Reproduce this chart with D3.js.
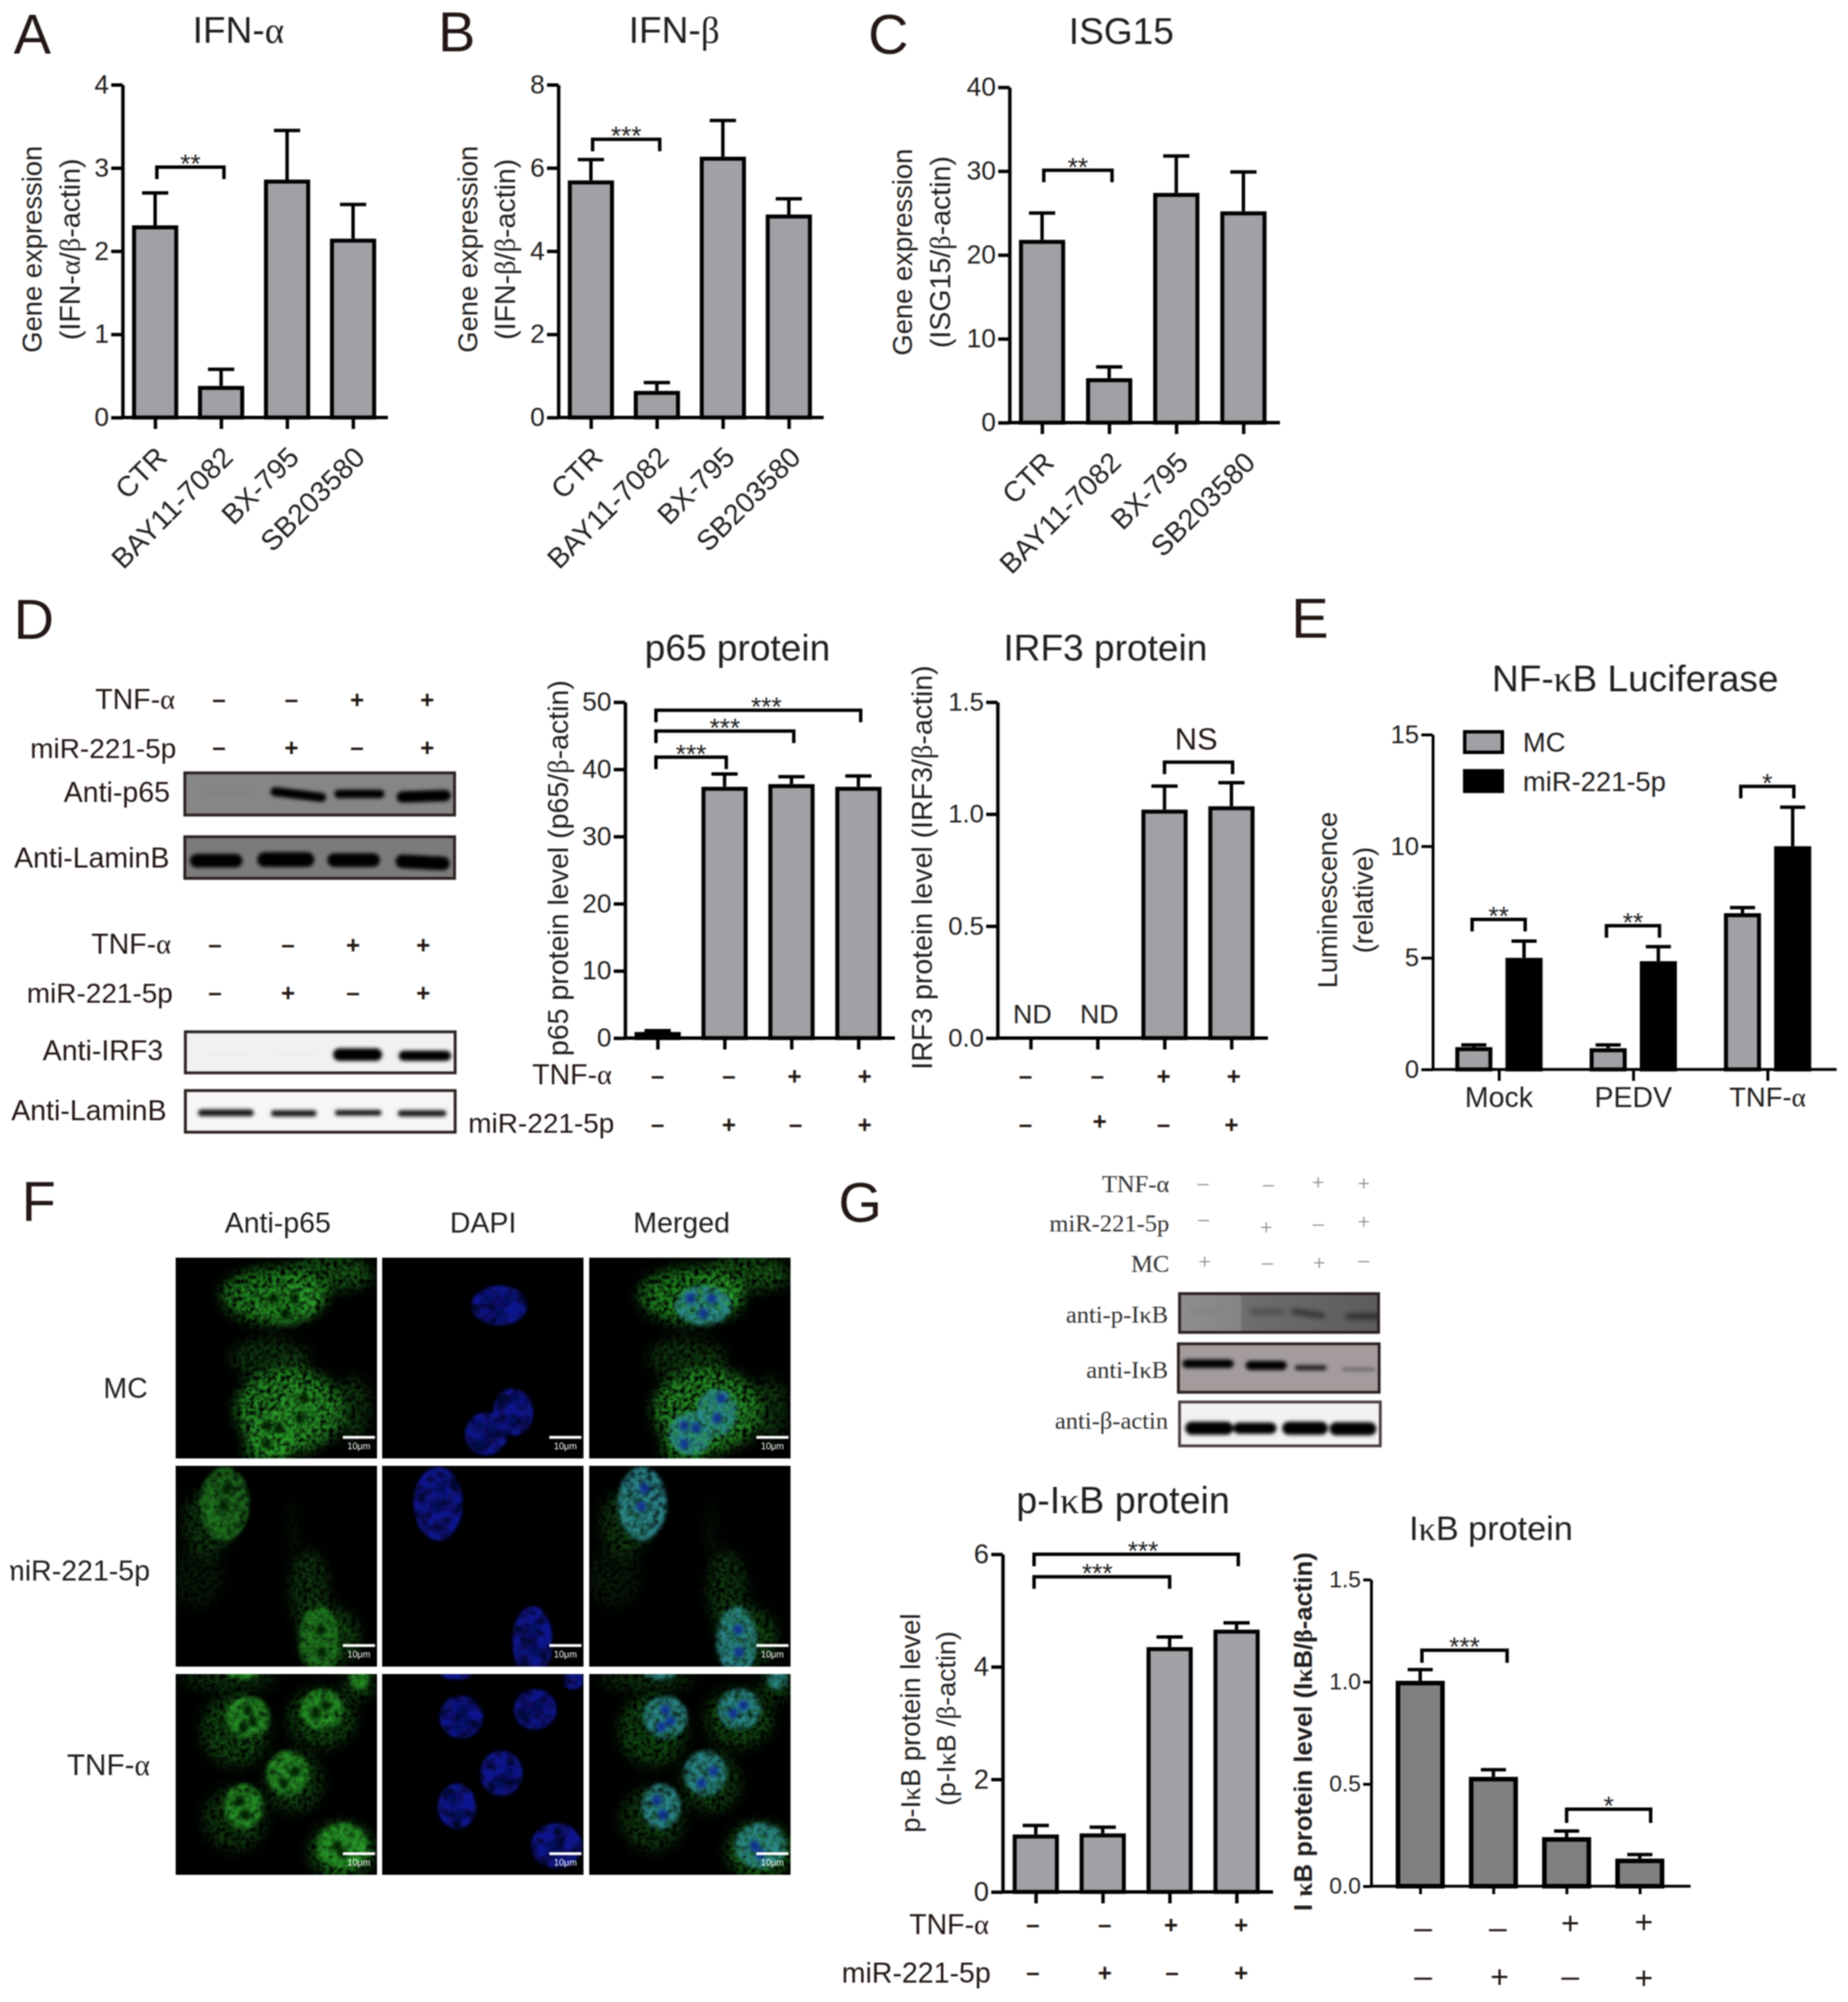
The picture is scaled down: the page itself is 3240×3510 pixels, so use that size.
<!DOCTYPE html>
<html><head><meta charset="utf-8">
<style>html,body{margin:0;background:#fff}svg{display:block;filter:blur(1.1px)}</style>
<script src="https://cdn.jsdelivr.net/npm/d3@7/dist/d3.min.js"></script></head><body>
<script>
// ---------- data ----------
const drugs = ["CTR","BAY11-7082","BX-795","SB203580"];
const ifnAlpha = [2.31,0.38,2.86,2.15];
const ifnAlphaTop = [2.70,0.58,3.45,2.56];
const ifnBeta = [5.70,0.64,6.27,4.88];
const ifnBetaTop = [6.20,0.84,7.14,5.26];
const isg15 = [21.8,5.3,27.4,25.2];
const isg15Top = [25.0,6.65,31.8,29.9];
const p65Level = [0.9,37.4,37.8,37.4];
const p65Top = [1.1,39.3,38.9,39.0];
const irf3Level = [null,null,1.02,1.035];
const irf3Top = [null,null,1.125,1.14];
const lucGroups = ["Mock","PEDV","TNF-α"];
const lucSeries = ["MC","miR-221-5p"];
const lucMC = [1.0,0.95,7.0];
const lucMCTop = [1.1,1.1,7.25];
const lucMiR = [5.0,4.85,10.0];
const lucMiRTop = [5.75,5.5,11.75];
const pIkB = [1.02,1.04,4.35,4.66];
const pIkBTop = [1.18,1.15,4.53,4.78];
const ikb = [1.005,0.535,0.24,0.135];
const ikbTop = [1.06,0.57,0.27,0.155];
const tnfRow = ["-","-","+","+"];
const mirRow = ["-","+","-","+"];
const mcRow = ["+","-","+","-"];
// relative band strength per lane of each western blot
const blotP65 = [0.03,1,1,1];
const blotLaminA = [1,1,1,1];
const blotIRF3 = [0.015,0.015,1,1];
const blotLaminB = [0.9,0.9,0.9,0.9];
const blotPIkB = [0.06,0.38,0.62,0.55];
const blotIkB = [1,1,0.8,0.4];
const blotActin = [1,1,1,1];

// ---------- page ----------
const W=3240,H=3510;
const svg=d3.select("body").append("svg").attr("width",W).attr("height",H).attr("viewBox",[0,0,W,H]);
svg.append("rect").attr("width",W).attr("height",H).attr("fill","#fff");
const SANS="'Liberation Sans',Arial,sans-serif",SERIF="'Liberation Serif',serif",INK="#231815",BAR="#a0a1a5";
const defs=svg.append("defs");
function speckle(id,freq,lo,slope,blur,seed){
  const f=defs.append("filter").attr("id",id).attr("x","-15%").attr("y","-15%").attr("width","130%").attr("height","130%");
  f.append("feGaussianBlur").attr("in","SourceGraphic").attr("stdDeviation",blur).attr("result","b");
  f.append("feTurbulence").attr("type","fractalNoise").attr("baseFrequency",freq).attr("numOctaves",2).attr("seed",seed).attr("result","n");
  f.append("feColorMatrix").attr("in","n").attr("type","matrix").attr("values",`0 0 0 0 1 0 0 0 0 1 0 0 0 0 1 ${slope} 0 0 0 ${lo}`).attr("result","a");
  f.append("feComposite").attr("in","b").attr("in2","a").attr("operator","in");
}
speckle("cyto",0.13,-0.55,2.4,11,4);
speckle("nuc",0.09,-0.1,1.7,3,7);
speckle("dapi",0.05,-0.05,1.6,2.5,11);
const blurF=(id,s)=>defs.append("filter").attr("id",id).attr("x","-30%").attr("y","-60%").attr("width","160%").attr("height","220%").append("feGaussianBlur").attr("stdDeviation",s);
blurF("b3",3.2);blurF("b5",5);blurF("b9",9);
const grad=defs.append("linearGradient").attr("id","pikbBg");
[[0,"#8e8e8e"],[0.3,"#858585"],[0.32,"#6e6e6e"],[1,"#5c5c5c"]].forEach(s=>grad.append("stop").attr("offset",s[0]).attr("stop-color",s[1]));

function rich(t,str){ // greek letters are set in a serif face as in the figure
  t.text(null);
  str.split(/([αβκ])/).filter(s=>s).forEach(s=>{
    const g=/[αβκ]/.test(s);
    t.append("tspan").attr("font-family",g?SERIF:SANS).text(s);
  });
}
function label(x,cy,str,o={}){
  const t=svg.append("text").attr("x",x).attr("y",cy).attr("dy",".36em")
   .attr("font-family",o.family||SANS).attr("font-size",o.size||46).attr("fill",o.fill||INK)
   .attr("text-anchor",o.anchor||"middle").attr("font-weight",o.weight||400);
  if(o.family) t.text(str); else rich(t,str);
  if(o.rot!=null) t.attr("transform",`rotate(${o.rot},${x},${cy})`);
  if(o.clip) t.attr("clip-path",o.clip);
  return t;
}
function panelLetter(s,x,base){svg.append("text").attr("x",x).attr("y",base).attr("font-family",SANS).attr("font-size",98).attr("fill",INK).text(s);}
function yAxis(cfg){
  const y=d3.scaleLinear().domain(cfg.domain).range([cfg.bottom,cfg.top]);
  const g=svg.append("g").attr("transform",`translate(${cfg.axisX},0)`)
    .call(d3.axisLeft(y).tickValues(cfg.ticks).tickFormat(cfg.fmt||d3.format("d")).tickSize(cfg.tick||20).tickSizeOuter(0).tickPadding(4));
  g.selectAll("path").attr("stroke","#000").attr("stroke-width",cfg.sw||6);
  g.selectAll("line").attr("stroke","#000").attr("stroke-width",cfg.sw||6);
  g.selectAll("text").attr("font-family",SANS).attr("font-size",cfg.font||46).attr("fill","#231f20");
  return y;
}
function xAxis(cfg,x){
  const g=svg.append("g").attr("transform",`translate(0,${cfg.bottom})`)
    .call(d3.axisBottom(x).tickSize(cfg.tick||20).tickSizeOuter(0).tickPadding(8));
  g.select("path").remove();
  g.selectAll("line").attr("stroke","#000").attr("stroke-width",cfg.sw||6);
  g.selectAll("text").remove();
  svg.append("line").attr("x1",cfg.axisX).attr("x2",cfg.xEnd).attr("y1",cfg.bottom).attr("y2",cfg.bottom).attr("stroke","#000").attr("stroke-width",cfg.sw||6);
}
function bars(data,y,cfg){
  const sw=cfg.sw||7, g=svg.append("g");
  const d=data.filter(b=>b.v!=null);
  g.selectAll("line.err").data(d).join("line").attr("x1",b=>b.x).attr("x2",b=>b.x).attr("y1",b=>y(b.v)).attr("y2",b=>y(b.t)).attr("stroke","#000").attr("stroke-width",6);
  g.selectAll("line.cap").data(d).join("line").attr("x1",b=>b.x-cfg.cap/2).attr("x2",b=>b.x+cfg.cap/2).attr("y1",b=>y(b.t)).attr("y2",b=>y(b.t)).attr("stroke","#000").attr("stroke-width",6);
  g.selectAll("rect").data(d).join("rect").attr("x",b=>b.x-cfg.bw/2+sw/2).attr("width",cfg.bw-sw)
    .attr("y",b=>y(b.v)+sw/2).attr("height",b=>Math.max(0,cfg.bottom-y(b.v)-sw/2))
    .attr("fill",b=>b.fill||cfg.fill||BAR).attr("stroke","#000").attr("stroke-width",sw);
}
function bracket(y,a,b,v,txt,o={}){
  const yy=y(v),d=o.drop||21;
  svg.append("path").attr("d",d3.line()([[a,yy+d],[a,yy],[b,yy],[b,yy+d]])).attr("fill","none").attr("stroke","#000").attr("stroke-width",o.sw||6);
  if(txt==="NS") label((a+b)/2-4,yy-42,txt,{size:54});
  else svg.append("text").attr("x",(a+b)/2+(o.sx||0)).attr("y",yy+10).attr("text-anchor","middle").attr("font-family",SANS).attr("font-size",46).attr("fill","#222").text(txt);
}
function signs(vals,xs,ys,o={}){
  const fill=o.fill||INK,fam=o.family||SANS,size=o.size||42;
  vals.forEach((s,i)=>{
    svg.append("text").attr("x",xs[i]).attr("y",ys[i]).attr("dy",s==="+"?"0.34em":"0.3em").attr("text-anchor","middle")
      .attr("font-family",fam).attr("font-size",size).attr("font-weight",o.weight||700).attr("fill",fill).text(s==="+"?"+":"–");
  });
}

// ---------- A B C ----------
function drugChart(c){
  const y=yAxis(c);
  const x=d3.scalePoint().domain(drugs).range([c.first,c.last]);
  xAxis(c,x);
  bars(drugs.map((k,i)=>({x:x(k),v:c.values[i],t:c.tops[i]})),y,{bw:81,cap:46,bottom:c.bottom});
  bracket(y,x(drugs[0])+3,x(drugs[1])+5,c.brV,c.stars);
  drugs.forEach(k=>{
    const px=x(k)+11,py=c.bottom+60;
    svg.append("text").attr("x",px).attr("y",py).attr("dy",".36em").attr("text-anchor","end").attr("transform",`rotate(-45,${px},${py})`)
      .attr("font-family",SANS).attr("font-size",50).attr("fill","#231f20").text(k);
  });
  label(c.titleX,c.titleY,c.title,{size:65,fill:"#231f20"});
  label(c.lab1,c.labY,"Gene expression",{rot:-90,size:48,fill:"#231f20"});
  label(c.lab2,c.labY,c.sub,{rot:-90,size:50,fill:"#231f20"});
}
panelLetter("A",24,94);panelLetter("B",768,90);panelLetter("C",1522,94);
drugChart({title:"IFN-α",sub:"(IFN-α/β-actin)",values:ifnAlpha,tops:ifnAlphaTop,domain:[0,4],ticks:[0,1,2,3,4],axisX:215,top:148.6,bottom:732,first:272,last:619,xEnd:680,brV:3.01,stars:"**",titleX:418,titleY:52,lab1:56,lab2:122,labY:437});
drugChart({title:"IFN-β",sub:"(IFN-β/β-actin)",values:ifnBeta,tops:ifnBetaTop,domain:[0,8],ticks:[0,2,4,6,8],axisX:979,top:148.6,bottom:732,first:1036,last:1383,xEnd:1444,brV:6.69,stars:"***",titleX:1182,titleY:52,lab1:820,lab2:885,labY:437});
drugChart({title:"ISG15",sub:"(ISG15/β-actin)",values:isg15,tops:isg15Top,domain:[0,40],ticks:[0,10,20,30,40],axisX:1770,top:153,bottom:741,first:1827,last:2180,xEnd:2244,brV:30.1,stars:"**",titleX:1966,titleY:54,lab1:1582,lab2:1648,labY:442});

// ---------- D bar charts ----------
panelLetter("D",24,1120);
(function(){
  const c={domain:[0,50],ticks:[0,10,20,30,40,50],axisX:1096,top:1231,bottom:1820,xEnd:1569};
  const y=yAxis(c),x=d3.scalePoint().domain(d3.range(4)).range([1153,1505]);
  xAxis(c,x);
  bars(p65Level.map((v,i)=>({x:x(i),v,t:p65Top[i]})),y,{bw:81,cap:46,bottom:c.bottom});
  bracket(y,x(0)-3,x(1)+3,41.8,"***");
  bracket(y,x(0)-3,x(2)+4,45.7,"***");
  bracket(y,x(0)-3,x(3)+4,48.8,"***",{sx:14});
  label(1293,1135,"p65 protein",{size:65,fill:"#231f20"});
  label(978,1522,"p65 protein level (p65/β-actin)",{rot:-90,size:50,fill:"#231f20"});
  label(1073,1883,"TNF-α",{anchor:"end",size:50});
  label(1077,1968,"miR-221-5p",{anchor:"end",size:49});
  signs(tnfRow,[1153,1278,1393,1516],[1887,1887,1887,1887]);
  signs(mirRow,[1153,1278,1395,1516],[1972,1972,1972,1972]);
})();
(function(){
  const c={domain:[0,1.5],ticks:[0,0.5,1,1.5],fmt:d3.format(".1f"),font:45,axisX:1749,top:1231,bottom:1820,xEnd:2223};
  const y=yAxis(c),x=d3.scalePoint().domain(d3.range(4)).range([1807,2159]);
  xAxis(c,x);
  bars(irf3Level.map((v,i)=>({x:x(i),v,t:irf3Top[i]})),y,{bw:81,cap:46,bottom:c.bottom});
  bracket(y,x(2),x(3)+2,1.232,"NS");
  [0,1].forEach(i=>label(x(i)+3,1777,"ND",{size:47,fill:"#231f20"}));
  label(1938,1135,"IRF3 protein",{size:65,fill:"#231f20"});
  label(1616,1521,"IRF3 protein level (IRF3/β-actin)",{rot:-90,size:50,fill:"#231f20"});
  signs(tnfRow,[1798,1924,2040,2163],[1887,1887,1887,1887]);
  signs(mirRow,[1798,1928,2040,2159],[1972,1966,1972,1972]);
})();

// ---------- E ----------
panelLetter("E",2264,1118);
(function(){
  const c={domain:[0,15],ticks:[0,5,10,15],font:45,axisX:2512,top:1288,bottom:1875,xEnd:3220,sw:5};
  const y=yAxis(c),x=d3.scalePoint().domain(lucGroups).range([2628,3099]);
  const sub=d3.scaleBand().domain(lucSeries).range([-88,88]);
  xAxis(c,x);
  const off=s=>sub(s)+sub.bandwidth()/2;
  const d=[];
  lucGroups.forEach((g,i)=>{
    d.push({x:x(g)+off("MC"),v:lucMC[i],t:lucMCTop[i]});
    d.push({x:x(g)+off("miR-221-5p"),v:lucMiR[i],t:lucMiRTop[i],fill:"#000"});
  });
  bars(d,y,{bw:65,cap:44,bottom:c.bottom});
  const sp=[[6.72,"**"],[6.44,"**"],[12.68,"*"]];
  lucGroups.forEach((g,i)=>bracket(y,x(g)+off("MC")-3,x(g)+off("miR-221-5p")+2,sp[i][0],sp[i][1]));
  lucGroups.forEach(g=>label(x(g),1923,g,{size:g==="TNF-α"?48:50,fill:"#231f20"}));
  const lg=d3.scaleBand().domain(lucSeries).range([1272,1402]).paddingInner(0.1);
  lucSeries.forEach((s,i)=>{
    svg.append("rect").attr("x",2568).attr("y",lg(s)+11).attr("width",66).attr("height",36).attr("fill",i?"#000":BAR).attr("stroke","#000").attr("stroke-width",6);
    label(2670,lg(s)+29,s,{anchor:"start",size:48,fill:"#231f20"});
  });
  label(2867,1189,"NF-κB Luciferase",{size:65,fill:"#231f20"});
  label(2327,1578,"Luminescence",{rot:-90,size:48,fill:"#231f20"});
  label(2390,1578,"(relative)",{rot:-90,size:48,fill:"#231f20"});
})();

// ---------- G charts ----------
panelLetter("G",1470,2142);
(function(){
  const c={domain:[0,6],ticks:[0,2,4,6],font:48,axisX:1758,top:2725,bottom:3317,xEnd:2232};
  const y=yAxis(c),x=d3.scalePoint().domain(d3.range(4)).range([1816,2168]);
  xAxis(c,x);
  bars(pIkB.map((v,i)=>({x:x(i),v,t:pIkBTop[i]})),y,{bw:81,cap:46,bottom:c.bottom});
  bracket(y,x(0)-3,x(2),5.6,"***",{sx:-8});
  bracket(y,x(0)-3,x(3)+3,6.0,"***",{sx:12});
  label(1969,2629,"p-IκB protein",{size:66,fill:"#231f20"});
  label(1596,3021,"p-IκB protein level",{rot:-90,size:48,fill:"#231f20"});
  label(1658,3013,"(p-IκB /β-actin)",{rot:-90,size:47,fill:"#231f20"});
  label(1734,3373,"TNF-α",{anchor:"end",size:50});
  label(1737,3458,"miR-221-5p",{anchor:"end",size:50});
  signs(tnfRow,[1811,1937,2053,2176],[3375,3375,3375,3375]);
  signs(mirRow,[1811,1937,2055,2176],[3459,3459,3459,3459]);
})();
(function(){
  const c={domain:[0,1.5],ticks:[0,0.5,1,1.5],fmt:d3.format(".1f"),font:40,tick:14,sw:5,axisX:2404,top:2769.5,bottom:3307,xEnd:2964};
  const y=yAxis(c),x=d3.scalePoint().domain(d3.range(4)).range([2490,2875]);
  xAxis(c,x);
  bars(ikb.map((v,i)=>({x:x(i),v,t:ikbTop[i]})),y,{bw:86,cap:44,bottom:c.bottom,fill:"#808080",sw:8});
  bracket(y,x(0)+3,x(1)+24,1.155,"***",{drop:22});
  bracket(y,x(2),x(3)+19,0.377,"*",{drop:24});
  label(2614,2678,"IκB protein",{size:60,fill:"#231f20"});
  label(2284,3036,"I κB protein level (IκB/β-actin)",{rot:-90,size:45,weight:700,fill:"#231f20"});
  const big={size:56,weight:400};
  signs(tnfRow,[2495,2626,2753,2882],[3381,3381,3372,3370],big);
  signs(mirRow,[2495,2629,2753,2882],[3466,3466,3466,3468],big);
})();

// ---------- western blots ----------
let blotN=0;
function blot(c){
  const g=svg.append("g");
  const cid="blot"+(blotN++);
  defs.append("clipPath").attr("id",cid).append("rect").attr("x",c.x).attr("y",c.y).attr("width",c.w).attr("height",c.h);
  const inner=g.append("g").attr("clip-path",`url(#${cid})`);
  inner.append("rect").attr("x",c.x).attr("y",c.y).attr("width",c.w).attr("height",c.h).attr("fill",c.bg);
  const band=inner.append("g").attr("filter",`url(#${c.blur||"b3"})`);
  c.values.forEach((v,i)=>{
    const [cx,wd,cy,th,tilt]=c.lanes[i];
    band.append("rect").attr("x",cx-wd/2).attr("y",cy-th/2).attr("width",wd).attr("height",th).attr("rx",th/2)
      .attr("fill",c.band||"#000").attr("opacity",v).attr("transform",`rotate(${tilt||0},${cx},${cy})`);
  });
  g.append("rect").attr("x",c.x).attr("y",c.y).attr("width",c.w).attr("height",c.h).attr("fill","none").attr("stroke",c.border||"#2b2220").attr("stroke-width",5);
}
blot({x:324,y:1355,w:473,h:74,bg:"#868686",values:blotP65,lanes:[[400,90,1393,6],[523,98,1393,16,7],[630,88,1392,15],[743,95,1396,20,-2]]});
blot({x:324,y:1467,w:473,h:73,bg:"#7b7b7b",values:blotLaminA,lanes:[[379,92,1509,24],[501,100,1507,26],[620,92,1508,24],[741,95,1512,24,3]]});
blot({x:325,y:1809,w:473,h:72,bg:"#f1f1f1",values:blotIRF3,lanes:[[400,80,1848,6],[520,80,1848,6],[627,86,1849,22],[745,92,1851,18]]});
blot({x:325,y:1912,w:473,h:73,bg:"#f6f6f6",values:blotLaminB,lanes:[[396,98,1951,12],[515,80,1952,11],[628,82,1951,10],[740,85,1952,11]]});
blot({x:2068,y:2268,w:349,h:68,bg:"url(#pikbBg)",blur:"b5",values:blotPIkB,lanes:[[2112,70,2298,5],[2220,60,2300,7],[2293,60,2303,8,8],[2390,62,2308,10]]});
blot({x:2066,y:2356,w:352,h:85,bg:"#a49c9c",values:blotIkB,lanes:[[2118,90,2391,15],[2220,72,2394,16],[2298,56,2398,9],[2382,58,2401,5]]});
blot({x:2068,y:2458,w:352,h:77,bg:"#f2f2f2",border:"#4a4040",values:blotActin,lanes:[[2120,84,2504,23],[2200,76,2504,20],[2288,80,2504,23],[2372,82,2505,23]]});

label(307,1225,"TNF-α",{anchor:"end",size:50});
label(309,1311,"miR-221-5p",{anchor:"end",size:49});
signs(tnfRow,[384,511,626,749],[1227,1227,1227,1227]);
signs(mirRow,[384,511,626,749],[1311,1311,1311,1311]);
label(298,1388,"Anti-p65",{anchor:"end",size:50});
label(297,1503,"Anti-LaminB",{anchor:"end",size:50});
label(300,1654,"TNF-α",{anchor:"end",size:50});
label(303,1740,"miR-221-5p",{anchor:"end",size:49});
signs(tnfRow,[377,505,619,742],[1657,1657,1657,1657]);
signs(mirRow,[377,505,619,742],[1741,1741,1741,1741]);
label(286,1841,"Anti-IRF3",{anchor:"end",size:50});
label(292,1946,"Anti-LaminB",{anchor:"end",size:50});

const G_TXT={anchor:"end",size:43,family:SERIF,fill:"#333"};
label(2050,2075,"TNF-α",G_TXT);label(2050,2144,"miR-221-5p",G_TXT);label(2050,2215,"MC",G_TXT);
label(2048,2304,"anti-p-IκB",G_TXT);label(2048,2401,"anti-IκB",G_TXT);label(2048,2490,"anti-β-actin",G_TXT);
const gs={family:SERIF,size:38,weight:400,fill:"#888"};
signs(tnfRow,[2109,2224,2311,2391],[2075,2077,2073,2075],gs);
signs(mirRow,[2110,2220,2311,2391],[2138,2152,2146,2142],gs);
signs(mcRow,[2112,2222,2313,2391],[2212,2214,2214,2210],gs);

// ---------- F confocal micrographs ----------
panelLetter("F",38,2140);
const colX=[308,670,1033],rowY=[2205,2570,2935],PW=353,PH=352;
const colNames=["Anti-p65","DAPI","Merged"],rowNames=["MC","miR-221-5p","TNF-α"];
const cytoLayout=[
 [[.52,.19,.26,.14,.75],[.80,.08,.22,.09,.5],[.60,.76,.27,.21,.8],[.50,.50,.20,.10,.3],[.92,.75,.08,.16,.3],[.70,.20,.08,.08,.8],[.50,.95,.12,.07,.9]],
 [[.20,.28,.13,.16,.32],[.14,.55,.13,.16,.14],[.70,.62,.10,.20,.3],[.80,.85,.15,.15,.4],[.62,.32,.03,.16,.12]],
 [[.33,.28,.17,.18,.4],[.76,.22,.17,.15,.4],[.62,.54,.15,.15,.35],[.33,.72,.16,.16,.32],[.86,.88,.16,.14,.6],[.30,.03,.24,.05,.3],[.95,.05,.08,.08,.4]]
];
const nucLayout=[
 [[.582,.238,.139,.099,[[-.063,-.035],[.043,-.035],[0,.04]]],[.65,.77,.10,.118,[[.02,-.07],[.0,.03]]],[.517,.877,.107,.106,[[-.03,-.04],[.03,-.03],[-.03,.05]]]],
 [[.278,.188,.122,.183,[[.012,-.075],[-.005,.014]]],[.747,.875,.10,.176,[[.008,-.06],[.012,.052]]]],
 [[.393,.214,.109,.106,[[.0,-.035],[.025,.02],[-.02,.05]]],[.76,.176,.106,.101,[[.02,-.02],[-.03,.02]]],[.592,.494,.106,.113,[[.04,-.01],[-.02,.05]]],[.372,.659,.096,.113,[[-.02,-.03],[.01,.04]]],[.866,.855,.127,.113,[[-.03,.0],[.0,.04]]],[.367,.0,.076,.028,[]],[.95,.03,.05,.047,[]]]
];
const nucGreen=[0.3,0.6,0.78];
const shift=[-0.035,0,-0.015];
rowNames.forEach((r,ri)=>colNames.forEach((cn,ci)=>{
  const px=d3.scaleLinear().domain([0,1]).range([0,PW]),py=d3.scaleLinear().domain([0,1]).range([0,PH]);
  const id=`pan${ri}${ci}`;
  defs.append("clipPath").attr("id",id).append("rect").attr("width",PW).attr("height",PH);
  const g=svg.append("g").attr("transform",`translate(${colX[ci]},${rowY[ri]})`).attr("clip-path",`url(#${id})`);
  g.append("rect").attr("width",PW).attr("height",PH).attr("fill","#000");
  const nx=v=>px(v+shift[ci]);
  if(ci!==1){
    g.append("g").attr("filter","url(#cyto)").selectAll("ellipse").data(cytoLayout[ri]).join("ellipse")
      .attr("cx",d=>px(d[0]+shift[ci])).attr("cy",d=>py(d[1])).attr("rx",d=>px(d[2])).attr("ry",d=>py(d[3]))
      .attr("fill","#2aa82a").attr("opacity",d=>d[4]);
  }
  const n=g.append("g").attr("filter",`url(#${ci===1?"dapi":"nuc"})`);
  n.selectAll("ellipse").data(nucLayout[ri]).join("ellipse")
    .attr("cx",d=>nx(d[0])).attr("cy",d=>py(d[1])).attr("rx",d=>px(d[2])).attr("ry",d=>py(d[3]))
    .attr("fill",ci===0?"#2ba52b":ci===1?"#0a149a":"#2c8c92")
    .attr("opacity",ci===0?nucGreen[ri]:ci===1?0.92:0.9)
    .attr("stroke",ci===0&&ri===0?"#48d048":"none").attr("stroke-width",4);
  const holes=g.append("g").attr("filter","url(#b3)");
  nucLayout[ri].forEach(d=>d[4].forEach(h=>{
    holes.append("ellipse").attr("cx",nx(d[0]+h[0])).attr("cy",py(d[1]+h[1])).attr("rx",px(.024)).attr("ry",py(.026))
      .attr("fill",ci===0?"#031a03":ci===1?"#050b55":"#0d2c96").attr("opacity",.9);
  }));
  g.append("line").attr("x1",px(.83)).attr("x2",px(.99)).attr("y1",py(.895)).attr("y2",py(.895)).attr("stroke","#fff").attr("stroke-width",5);
  g.append("text").attr("x",px(.91)).attr("y",py(.955)).attr("text-anchor","middle").attr("font-family",SANS).attr("font-size",16).attr("fill","#fff").text("10μm");
}));
defs.append("clipPath").attr("id","leftClip").append("rect").attr("x",18).attr("y",2700).attr("width",300).attr("height",110);
colNames.forEach((s,i)=>label([487,847,1195][i],2143,s,{size:50,fill:"#231f20"}));
label(259,2433,"MC",{anchor:"end",size:50,fill:"#231f20"});
label(263,2753,"miR-221-5p",{anchor:"end",size:50,fill:"#231f20",clip:"url(#leftClip)"});
label(263,3093,"TNF-α",{anchor:"end",size:52,fill:"#231f20"});
</script></body></html>
